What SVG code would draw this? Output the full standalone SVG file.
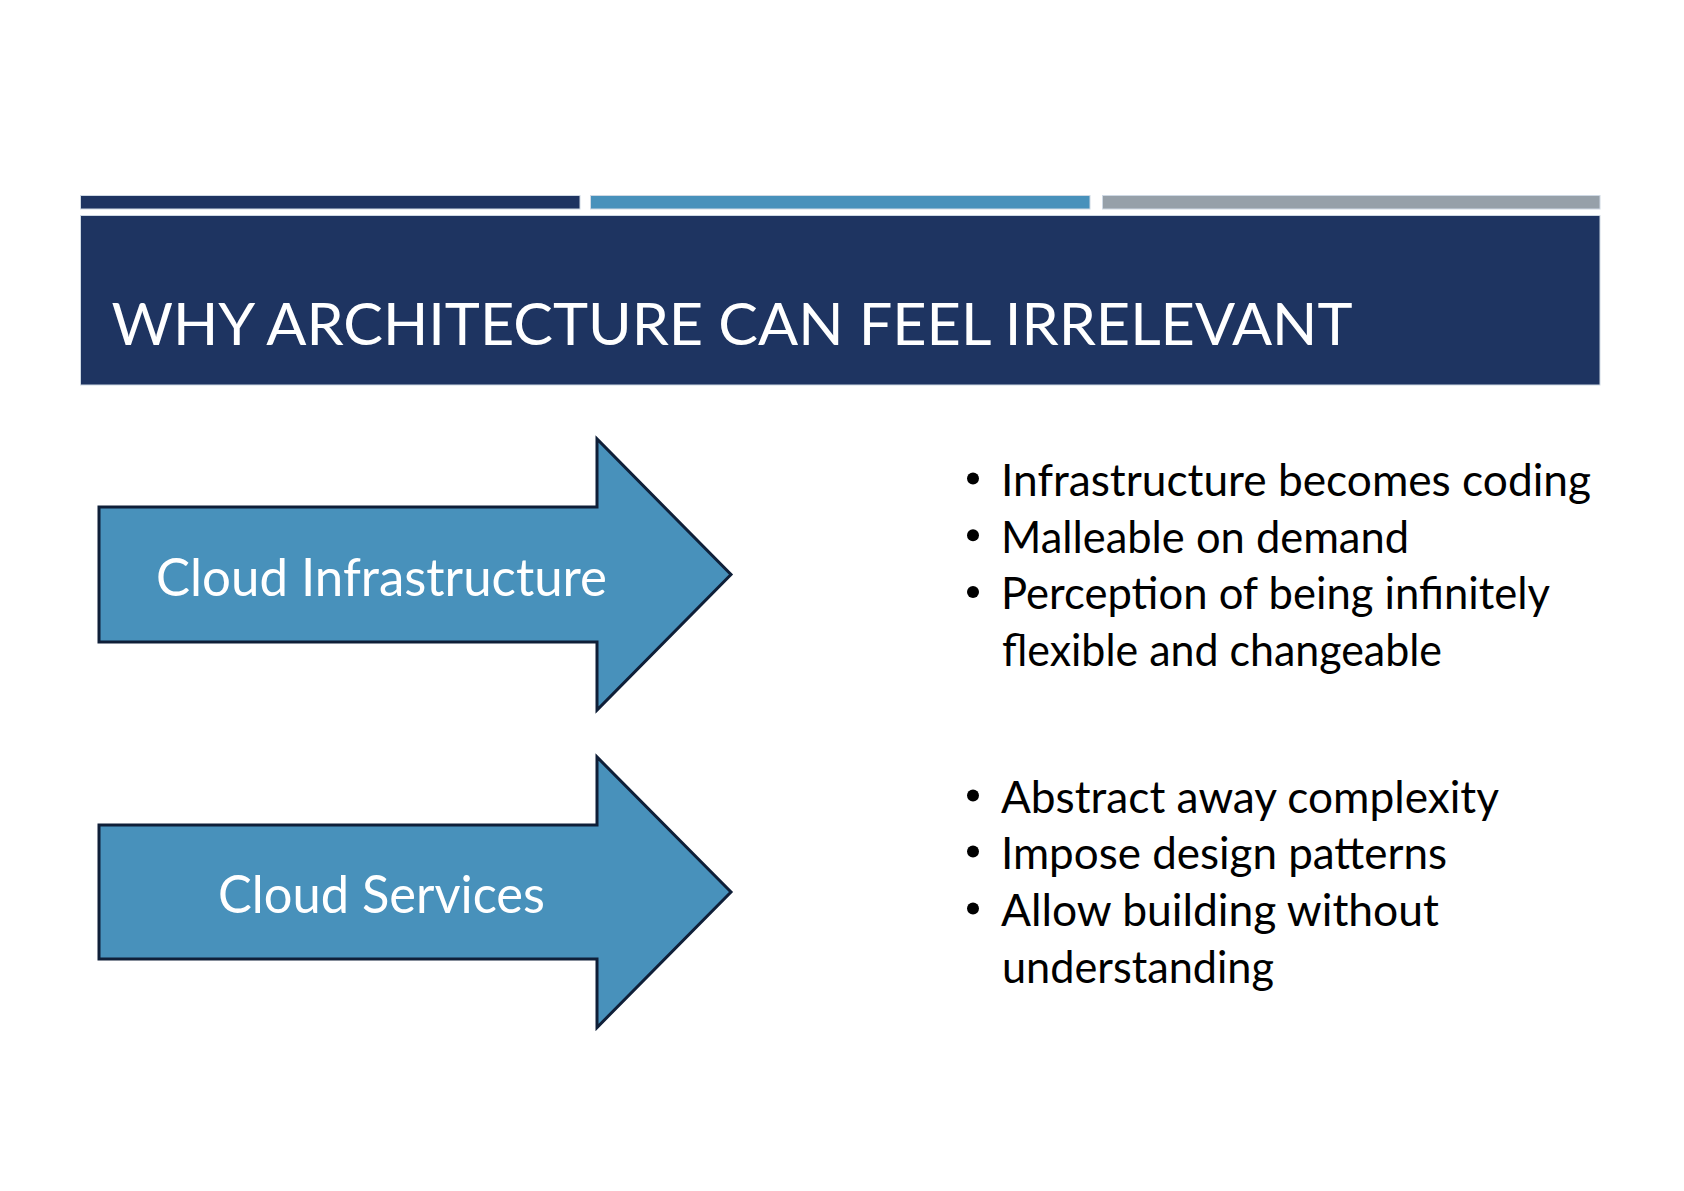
<svg xmlns="http://www.w3.org/2000/svg" width="1684" height="1191" viewBox="0 0 1684 1191">
<style>
.bar{stroke:#cfd9e4;stroke-width:1}
.arrow{fill:#4891BB;stroke:#0F1F38;stroke-width:3;stroke-linejoin:miter}
.atext{font-family:Lato,"Liberation Sans",sans-serif;font-size:53px;fill:#ffffff}
.title{font-family:Lato,"Liberation Sans",sans-serif;font-size:59px;fill:#ffffff}
.btext{font-family:Lato,"Liberation Sans",sans-serif;font-size:44px;fill:#000000}
.dot{fill:#000000}
</style>
<rect width="1684" height="1191" fill="#ffffff"/>
<g id="header">
<rect class="bar" x="80.5" y="195.5" width="499.5" height="13.5" fill="#1E3461"/>
<rect class="bar" x="590.5" y="195.5" width="499.5" height="13.5" fill="#4891BB"/>
<rect class="bar" x="1102.5" y="195.5" width="497.5" height="13.5" fill="#96A0A9"/>
<rect class="bar" x="80.5" y="215.5" width="1519.5" height="169.5" fill="#1E3461"/>
<text class="title" x="111.5" y="345" textLength="1241" lengthAdjust="spacingAndGlyphs">WHY ARCHITECTURE CAN FEEL IRRELEVANT</text>
</g>
<g id="arrow-infra">
<polygon class="arrow" points="99,507 597,507 597,439 731,574.5 597,710 597,642 99,642"/>
<text class="atext" x="156" y="595.5" textLength="451" lengthAdjust="spacingAndGlyphs">Cloud Infrastructure</text>
</g>
<g id="arrow-services">
<polygon class="arrow" points="99,825 597,825 597,757 731,892 597,1027.5 597,959 99,959"/>
<text class="atext" x="218" y="912.5" textLength="327" lengthAdjust="spacingAndGlyphs">Cloud Services</text>
</g>
<g id="bullets-infra">
<circle class="dot" cx="973" cy="478.5" r="6"/>
<text class="btext" x="1001" y="496" textLength="590" lengthAdjust="spacingAndGlyphs">Infrastructure becomes coding</text>
<circle class="dot" cx="973" cy="535.2" r="6"/>
<text class="btext" x="1001" y="552.7" textLength="408" lengthAdjust="spacingAndGlyphs">Malleable on demand</text>
<circle class="dot" cx="973" cy="591.9" r="6"/>
<text class="btext" x="1001" y="609.4" textLength="549" lengthAdjust="spacingAndGlyphs">Perception of being infinitely</text>
<text class="btext" x="1002" y="666" textLength="440" lengthAdjust="spacingAndGlyphs">flexible and changeable</text>
</g>
<g id="bullets-services">
<circle class="dot" cx="973" cy="795.5" r="6"/>
<text class="btext" x="1001" y="813" textLength="498" lengthAdjust="spacingAndGlyphs">Abstract away complexity</text>
<circle class="dot" cx="973" cy="851.5" r="6"/>
<text class="btext" x="1001" y="869" textLength="446" lengthAdjust="spacingAndGlyphs">Impose design patterns</text>
<circle class="dot" cx="973" cy="908.5" r="6"/>
<text class="btext" x="1001" y="926" textLength="438" lengthAdjust="spacingAndGlyphs">Allow building without</text>
<text class="btext" x="1002" y="983" textLength="272" lengthAdjust="spacingAndGlyphs">understanding</text>
</g>
<g id="connectors"/>
</svg>
